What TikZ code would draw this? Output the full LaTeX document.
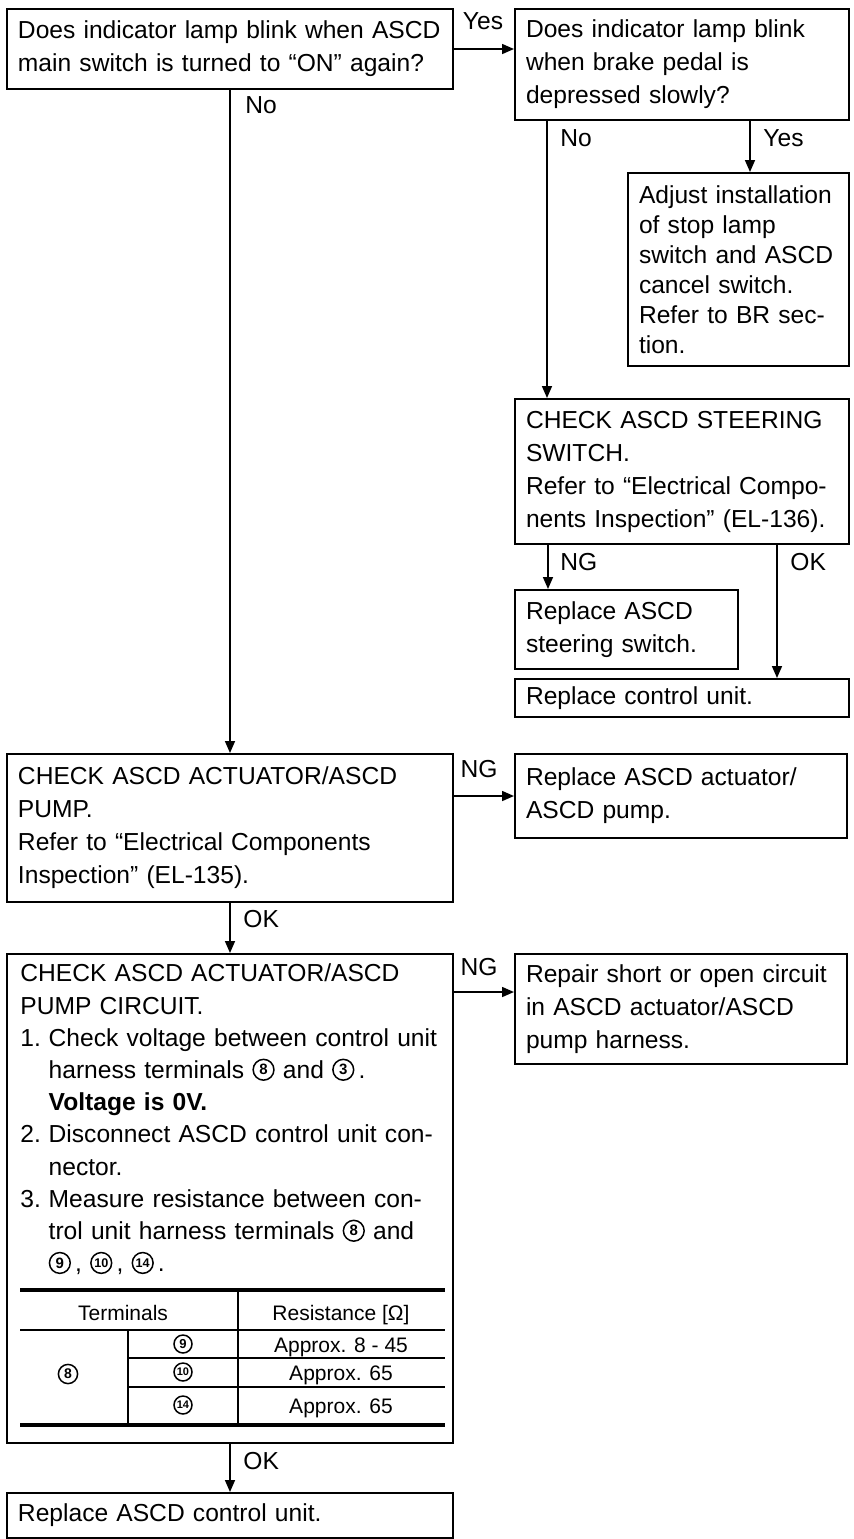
\documentclass[tikz,border=0pt]{standalone}
\usepackage{fontspec}
\setmainfont{Liberation Sans}
\usetikzlibrary{arrows.meta,calc}

\newcommand{\mfs}{\fontsize{12.3pt}{16.5pt}\selectfont}
\newcommand{\afs}{\fontsize{12.3pt}{15pt}\selectfont}
\newcommand{\pfs}{\fontsize{12.3pt}{16.1pt}\selectfont}
\newcommand{\tfs}{\fontsize{10.5pt}{12pt}\selectfont}
% circled number: [radius]{font size}{number}
\newcommand{\cnum}[3][5.2pt]{\tikz[baseline=-4.4pt]{\draw[line width=0.75pt] (0pt,0pt) circle[radius=#1];
  \node[circle,inner sep=0pt,anchor=center,text width={},minimum size=0pt,align=center,font=\fontsize{#2}{#2}\selectfont\bfseries] at (0pt,0pt) {#3};}}
\newcommand{\li}[1]{\makebox[1.15em][l]{#1}}
\newcommand{\lind}{\hspace*{1.15em}}

\tikzset{
  bx/.style={draw, line width=1pt, anchor=north west, inner xsep=5.5pt, inner ysep=0pt, align=left, font=\mfs},
  lbl/.style={inner sep=0pt, font=\mfs},
  tcell/.style={inner sep=0pt, font=\tfs, anchor=base},
  arr/.style={line width=0.8pt, -{Triangle[length=6pt,width=5pt]}},
  thick rule/.style={line width=2pt},
  thin rule/.style={line width=0.8pt}
}

\begin{document}
\begin{tikzpicture}[x=0.5pt,y=-0.5pt]
\useasboundingbox (0,0) rectangle (854,1539);

% boxes
\node[bx, text width=212pt, minimum height=40pt] (b1) at (6,8)
  {Does indicator lamp blink when ASCD\\main switch is turned to ``ON'' again?};
\node[bx, text width=156pt, minimum height=55.5pt] (b2) at (514,8)
  {Does indicator lamp blink\\when brake pedal is\\depressed slowly?};
\node[bx, font=\afs, text width=99.5pt, minimum height=96.5pt] (adj) at (627,172)
  {Adjust installation\\of stop lamp\\switch and ASCD\\cancel switch.\\Refer to BR sec-\\tion.};
\node[bx, text width=156pt, minimum height=72.5pt] (steer) at (514,398)
  {CHECK ASCD STEERING\\SWITCH.\\Refer to ``Electrical Compo-\\nents Inspection'' (EL-136).};
\node[bx, text width=100.5pt, minimum height=39.5pt] (repsteer) at (514,589)
  {Replace ASCD\\steering switch.};
\node[bx, text width=156pt, minimum height=19pt] (repcu) at (514,678)
  {Replace control unit.};
\node[bx, text width=212pt, minimum height=74pt] (b4) at (6,753)
  {CHECK ASCD ACTUATOR/ASCD\\PUMP.\\Refer to ``Electrical Components\\Inspection'' (EL-135).};
\node[bx, text width=155pt, minimum height=42pt] (repact) at (514,753)
  {Replace ASCD actuator/\\ASCD pump.};
\node[bx, text width=212pt, minimum height=244.5pt] (b5) at (6,953) {};
\node[bx, text width=155pt, minimum height=55pt] (repair) at (514,953)
  {Repair short or open circuit\\in ASCD actuator/ASCD\\pump harness.};
\node[bx, text width=212pt, minimum height=22.5pt] (b6) at (6,1492)
  {Replace ASCD control unit.};

% text of the circuit check box
\node[inner sep=0pt, anchor=north west, align=left, text width=215pt, font=\pfs] (b5t) at (20,959)
  {\strut CHECK ASCD ACTUATOR/ASCD\\
   PUMP CIRCUIT.\\
   \li{1.}Check voltage between control unit\\
   \lind harness terminals \cnum{7.5pt}{8} and \cnum{7.5pt}{3}\,.\\
   \lind\textbf{Voltage is 0V.}\\
   \li{2.}Disconnect ASCD control unit con-\\
   \lind nector.\\
   \li{3.}Measure resistance between con-\\
   \lind trol unit harness terminals \cnum{7.5pt}{8} and\\
   \lind\cnum{7.5pt}{9}\,, \cnum{6.3pt}{10}\,, \cnum{6.3pt}{14}\,.};

% table
\draw[thick rule] (20,1290) -- (445,1290);
\draw[thick rule] (20,1425) -- (445,1425);
\draw[thin rule] (20,1330) -- (445,1330);
\draw[thin rule] (238,1290) -- (238,1425);
\draw[thin rule] (128,1330) -- (128,1425);
\draw[thin rule] (128,1358) -- (445,1358);
\draw[thin rule] (128,1387) -- (445,1387);
\node[tcell] (th1) at (123,1320) {Terminals};
\node[tcell] (th2) at (341,1320) {Resistance [Ω]};
\node[tcell, anchor=center] (t8) at (68,1374) {\cnum[4.8pt]{7pt}{8}};
\node[tcell, anchor=center] (t9) at (183,1344) {\cnum[4.5pt]{6.5pt}{9}};
\node[tcell, anchor=center] (t10) at (183,1372) {\cnum[4.5pt]{5.5pt}{10}};
\node[tcell, anchor=center] (t14) at (183,1405) {\cnum[4.5pt]{5.5pt}{14}};
\node[tcell] (r1) at (341,1352) {Approx. 8 - 45};
\node[tcell] (r2) at (341,1380) {Approx. 65};
\node[tcell] (r3) at (341,1413) {Approx. 65};

% labels
\node[lbl, anchor=base] (yes1) at (483,29) {Yes};
\node[lbl, anchor=base west] (no1) at (245,113) {No};
\node[lbl, anchor=base west] (no2) at (560,146) {No};
\node[lbl, anchor=base west] (yes2) at (763,146) {Yes};
\node[lbl, anchor=base west] (ng1) at (560,570) {NG};
\node[lbl, anchor=base west] (ok1) at (790,570) {OK};
\node[lbl, anchor=base] (ng2) at (479,777) {NG};
\node[lbl, anchor=base west] (ok2) at (243,927) {OK};
\node[lbl, anchor=base] (ng3) at (479,975) {NG};
\node[lbl, anchor=base west] (ok3) at (243,1469) {OK};

% connectors
\draw[arr] (b1.east) -- (b1.east -| b2.west);
\draw[arr] (b1.south) -- (b4.north);
\draw[arr] ([xshift=16.5pt]b2.south west) -- ([xshift=16.5pt]steer.north west);
\draw[arr] ([xshift=118pt]b2.south west) -- ([xshift=118pt]b2.south west |- adj.north);
\draw[arr] ([xshift=17pt]steer.south west) -- ([xshift=17pt]repsteer.north west);
\draw[arr] ([xshift=131.5pt]steer.south west) -- ([xshift=131.5pt]repcu.north west);
\draw[arr] (repact.west -| b4.east) -- (repact.west);
\draw[arr] ([yshift=-19.5pt]b5.north east) -- ([yshift=-19.5pt]repair.north west);
\draw[arr] (b4.south) -- (b5.north);
\draw[arr] (b5.south) -- (b6.north);
\end{tikzpicture}
\end{document}
